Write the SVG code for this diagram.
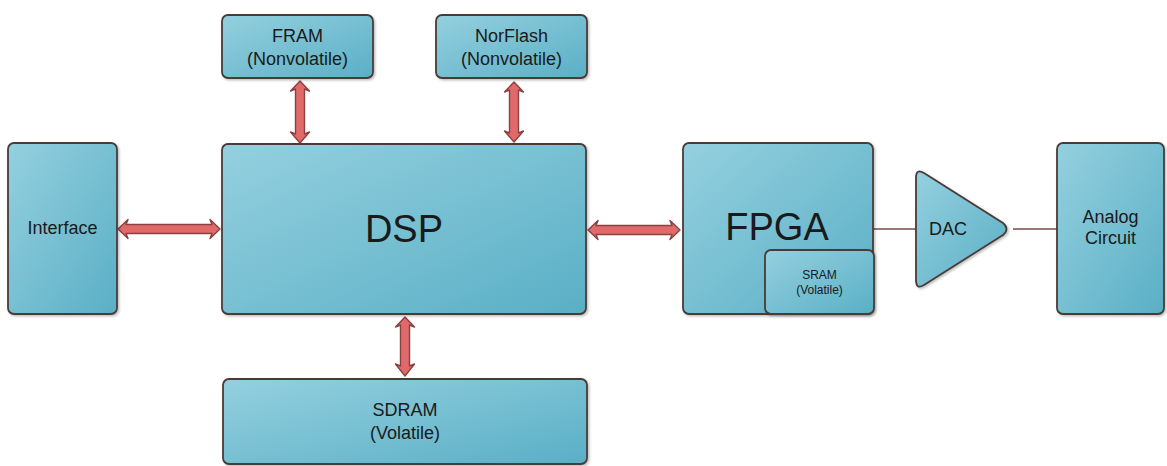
<svg xmlns="http://www.w3.org/2000/svg" width="1167" height="466" viewBox="0 0 1167 466">
<defs>
<linearGradient id="g" x1="0" y1="0" x2="1" y2="1">
<stop offset="0" stop-color="#94d0df"/>
<stop offset="1" stop-color="#5aafc5"/>
</linearGradient>
<filter id="sh" x="-10%" y="-10%" width="130%" height="130%">
<feDropShadow dx="1.5" dy="1.5" stdDeviation="1.2" flood-color="#000" flood-opacity="0.25"/>
</filter>
<style>
.box{fill:url(#g);stroke:#4a3b39;stroke-width:1.8;filter:url(#sh)}
.t{font-family:"Liberation Sans",Arial,sans-serif;fill:#1a1a1a;text-anchor:middle}
.m{font-size:18px}
.arr{fill:#e06a6a;stroke:#8c4040;stroke-width:1.4;stroke-linejoin:round}
.ln{stroke:#7a4a46;stroke-width:1.6;fill:none}
</style>
</defs>
<g id="connectors">
<path class="arr" d="M118 229 L128 219.5 L126 224.5 L212 224.5 L210 219.5 L220 229 L210 238.5 L212 233.5 L126 233.5 L128 238.5 Z"/>
<path class="arr" d="M588 230 L598 220.5 L596 225.5 L672 225.5 L670 220.5 L680 230 L670 239.5 L672 234.5 L596 234.5 L598 239.5 Z"/>
<path class="arr" d="M300 81 L309.5 91 L304.5 89 L304.5 134 L309.5 132 L300 143 L290.5 132 L295.5 134 L295.5 89 L290.5 91 Z"/>
<path class="arr" d="M514 82 L523.5 92 L518.5 90 L518.5 133 L523.5 131 L514 142 L504.5 131 L509.5 133 L509.5 90 L504.5 92 Z"/>
<path class="arr" d="M405 317 L414.5 327 L409.5 325 L409.5 366 L414.5 364 L405 376 L395.5 364 L400.5 366 L400.5 325 L395.5 327 Z"/>
<line class="ln" x1="874" y1="229" x2="917" y2="229"/>
<line class="ln" x1="1013" y1="229" x2="1057" y2="229"/>
</g>
<g id="fram">
<rect class="box" x="222" y="15" width="151" height="63" rx="6"/>
<text class="t m" x="297.5" y="42">FRAM</text>
<text class="t m" x="297.5" y="65">(Nonvolatile)</text>
</g>
<g id="norflash">
<rect class="box" x="436" y="15" width="151" height="63" rx="6"/>
<text class="t m" x="511.5" y="42">NorFlash</text>
<text class="t m" x="511.5" y="65">(Nonvolatile)</text>
</g>
<g id="interface">
<rect class="box" x="8" y="143" width="109" height="171" rx="6"/>
<text class="t m" x="62.5" y="234">Interface</text>
</g>
<g id="dsp">
<rect class="box" x="222" y="144" width="364" height="170" rx="6"/>
<text class="t" x="404" y="242" font-size="38">DSP</text>
</g>
<g id="fpga">
<rect class="box" x="683" y="143" width="190" height="171" rx="6"/>
<text class="t" x="777" y="240" font-size="38">FPGA</text>
</g>
<g id="sram">
<rect class="box" x="765" y="250" width="109" height="64" rx="6"/>
<text class="t" x="819.5" y="279" font-size="12">SRAM</text>
<text class="t" x="819.5" y="294" font-size="12">(Volatile)</text>
</g>
<g id="dac">
<path class="box" d="M916 178 Q916 168 924 173 L1003 223 Q1010 229 1003 235 L924 285 Q916 290 916 280 Z"/>
<text class="t m" x="948" y="235">DAC</text>
</g>
<g id="analog">
<rect class="box" x="1057" y="143" width="107" height="171" rx="6"/>
<text class="t m" x="1110.5" y="223">Analog</text>
<text class="t m" x="1110.5" y="244">Circuit</text>
</g>
<g id="sdram">
<rect class="box" x="223" y="379" width="364" height="85" rx="6"/>
<text class="t m" x="405" y="416">SDRAM</text>
<text class="t m" x="405" y="439">(Volatile)</text>
</g>
</svg>
